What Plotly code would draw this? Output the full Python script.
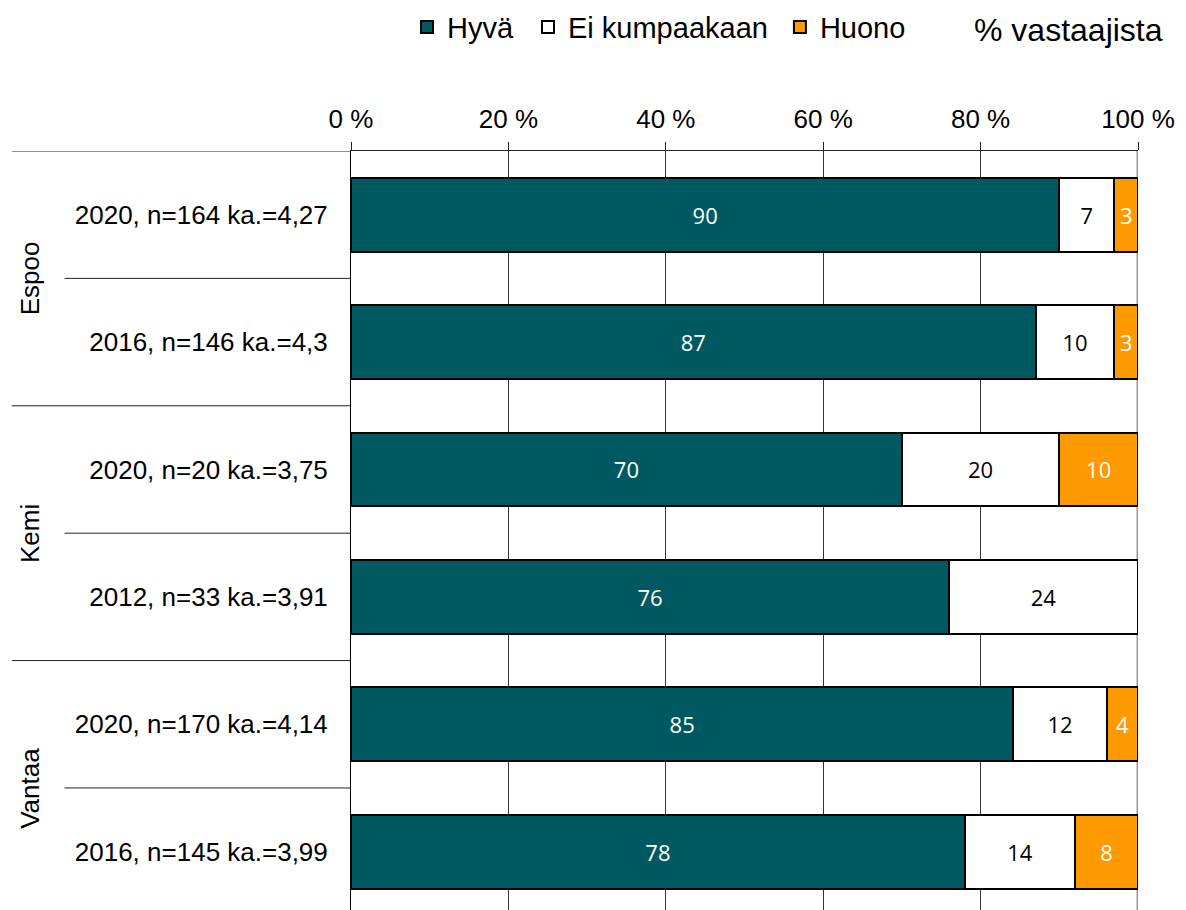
import plotly.graph_objects as go

categories = ["2020, n=164 ka.=4,27", "2016, n=146 ka.=4,3",
              "2020, n=20 ka.=3,75", "2012, n=33 ka.=3,91",
              "2020, n=170 ka.=4,14", "2016, n=145 ka.=3,99"]
groups = ["Espoo", "Kemi", "Vantaa"]
hyva = [90, 87, 70, 76, 85, 78]
ei_kumpaakaan = [7, 10, 20, 24, 12, 14]
huono = [3, 3, 10, 0, 4, 8]
x_ticks = [0, 20, 40, 60, 80, 100]

pos = list(range(len(categories)))

fig = go.Figure()

series = [
    ("Hyvä", hyva, "#005960", "white", "legend"),
    ("Ei kumpaakaan", ei_kumpaakaan, "white", "black", "legend2"),
    ("Huono", huono, "#FF9900", "white", "legend3"),
]
for name, vals, color, tcolor, leg in series:
    fig.add_trace(go.Bar(
        y=pos, x=vals, name=name, orientation="h", legend=leg,
        marker=dict(color=color, line=dict(color="black", width=2)),
        width=0.58,
        text=[str(v) if v else "" for v in vals],
        textposition="inside", insidetextanchor="middle",
        textangle=0,
        textfont=dict(family="Open Sans, Noto Sans", size=22, color=tcolor),
    ))

shapes = []
# row separators (multi-level category ticks)
for i in range(len(categories)):
    x0 = -0.431 if i % 2 == 0 else -0.364
    shapes.append(dict(type="line", xref="paper", yref="y", x0=x0, x1=0,
                       y0=i - 0.5, y1=i - 0.5, line=dict(color="#222", width=1)))
# 100 % line
shapes.append(dict(type="line", xref="x", yref="paper", x0=100, x1=100, y0=0, y1=1,
                   line=dict(color="#999", width=3), layer="below"))

annotations = [dict(text="% vastaajista", xref="paper", yref="paper", x=0.912, y=1.159,
                    xanchor="center", yanchor="middle", showarrow=False,
                    font=dict(family="Liberation Sans, Arial", size=32, color="black"))]
for g, name in enumerate(groups):
    annotations.append(dict(text=name, xref="paper", yref="y", x=-0.408, y=2 * g + 0.5,
                            textangle=-90, showarrow=False, xanchor="center", yanchor="middle",
                            font=dict(family="Liberation Sans, Arial", size=26, color="black")))

leg_style = dict(orientation="h", yref="container", y=0.979, xanchor="left", yanchor="middle",
                 font=dict(family="Liberation Sans, Arial", size=29), itemwidth=30,
                 bgcolor="rgba(0,0,0,0)")

fig.update_layout(
    width=1186, height=910,
    barmode="stack", barnorm="percent",
    plot_bgcolor="white", paper_bgcolor="white",
    margin=dict(l=343, r=56, t=143, b=8, pad=0),
    font=dict(family="Liberation Sans, Arial", color="black"),
    showlegend=True,
    legend=dict(x=0.0712, **leg_style),
    legend2=dict(x=0.2249, **leg_style),
    legend3=dict(x=0.545, **leg_style),
    xaxis=dict(side="top", range=[0, 100], tickvals=x_ticks,
               ticktext=[f"{t} %" for t in x_ticks],
               showgrid=True, gridcolor="#333", gridwidth=1,
               showline=True, linecolor="#222", linewidth=1,
               ticks="outside", ticklen=8, tickcolor="#222", ticklabelstandoff=4,
               tickfont=dict(size=26), zeroline=False, fixedrange=True),
    yaxis=dict(range=[5.458, -0.5], tickvals=pos, ticktext=categories,
               showline=True, linecolor="black", linewidth=1,
               ticks="", ticklabelstandoff=17, tickfont=dict(size=26),
               showgrid=False, zeroline=False, fixedrange=True),
    shapes=shapes,
    annotations=annotations,
)

fig.write_html("out.html")
